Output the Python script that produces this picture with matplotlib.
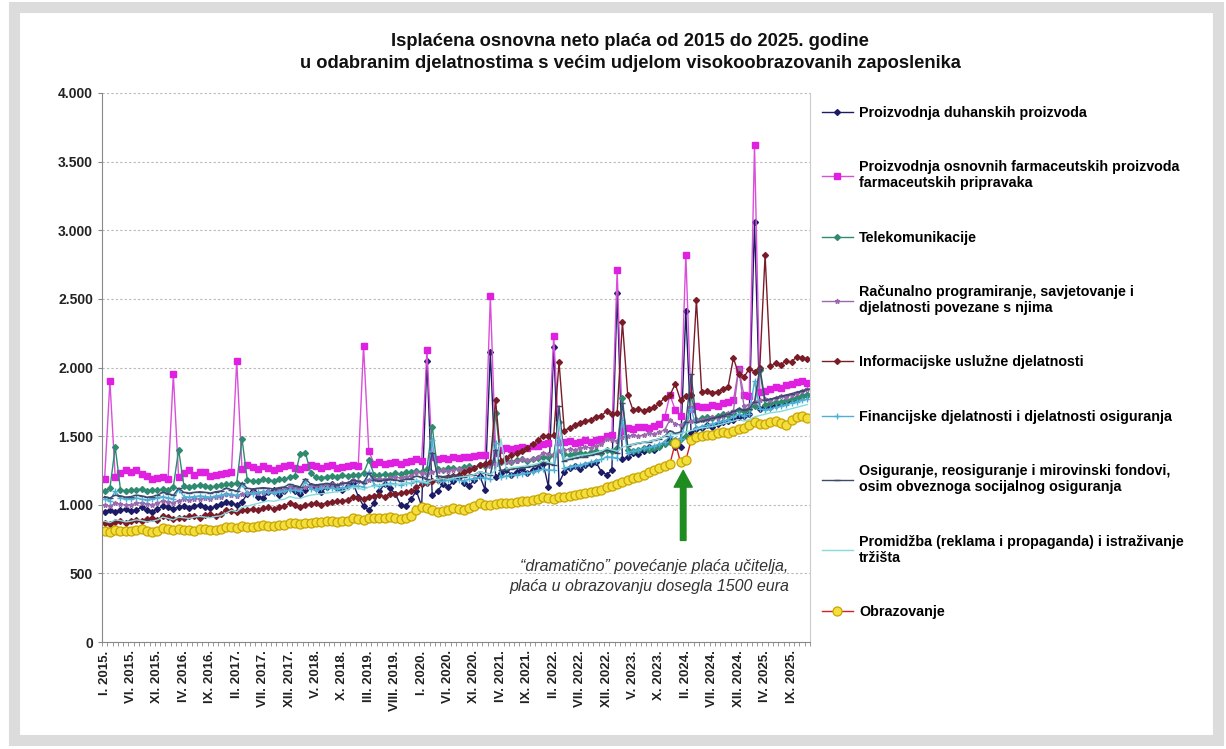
import matplotlib
matplotlib.use("Agg")
import matplotlib.pyplot as plt
from matplotlib.patches import Rectangle
from matplotlib.ticker import FuncFormatter, FixedLocator

plt.rcParams['font.family'] = ['Liberation Sans', 'DejaVu Sans']

# tick labels (every 5th month on the category axis)
x_labels = ["I. 2015.", "VI. 2015.", "XI. 2015.", "IV. 2016.", "IX. 2016.", "II. 2017.",
            "VII. 2017.", "XII. 2017.", "V. 2018.", "X. 2018.", "III. 2019.", "VIII. 2019.",
            "I. 2020.", "VI. 2020.", "XI. 2020.", "IV. 2021.", "IX. 2021.", "II. 2022.",
            "VII. 2022.", "XII. 2022.", "V. 2023.", "X. 2023.", "II. 2024.", "VII. 2024.",
            "XII. 2024.", "IV. 2025.", "IX. 2025."]

duhan = [950, 960, 945, 960, 970, 955, 965, 980, 960, 950, 970, 990,
         980, 970, 985, 990, 975, 990, 1000, 985, 975, 990, 1005, 1020,
         1010, 1000, 1020, 1080, 1100, 1060, 1050, 1090, 1110, 1070, 1100, 1120,
         1100, 1080, 1110, 1140, 1120, 1090, 1130, 1150, 1120, 1110, 1140, 1160,
         1060, 990, 960, 1010, 1100, 1150, 1120, 1080, 1000, 990, 1040, 1100,
         990, 2050, 1070, 1100, 1150, 1130, 1170, 1200, 1160, 1140, 1180, 1210,
         1110, 2110, 1200, 1230, 1250, 1220, 1240, 1260, 1230, 1250, 1270, 1300,
         1130, 2150, 1160, 1240, 1270, 1280, 1260, 1290, 1300, 1310, 1240, 1220,
         1250, 2540, 1330, 1350, 1380, 1370, 1390, 1420, 1400, 1430, 1450, 1480,
         1420, 1420, 2410, 1520, 1550, 1560, 1580, 1570, 1590, 1600, 1610, 1620, 1640,
         1650, 1660, 3060, 1700, 1720, 1710, 1730, 1740, 1750, 1760, 1780, 1790, 1800]

farma = [1190, 1900, 1200, 1230, 1250, 1240, 1250, 1225, 1210, 1190, 1195, 1200,
         1185, 1950, 1200, 1230, 1250, 1220, 1240, 1235, 1210, 1215, 1225, 1230,
         1240, 2050, 1260, 1290, 1275, 1260, 1280, 1265, 1250, 1270, 1280, 1290,
         1270, 1260, 1275, 1290, 1280, 1265, 1280, 1290, 1270, 1275, 1285, 1290,
         1280, 2160, 1390, 1300, 1310, 1295, 1305, 1315, 1300, 1310, 1320, 1330,
         1320, 2130, 1350, 1330, 1340, 1335, 1345, 1340, 1350, 1345, 1355, 1360,
         1360, 2520, 1380, 1400, 1410, 1405, 1415, 1420, 1410, 1425, 1430, 1440,
         1450, 2230, 1460, 1455, 1465, 1450, 1460, 1470, 1455, 1475, 1480, 1500,
         1510, 2710, 1540, 1560, 1555, 1565, 1570, 1560, 1575, 1590, 1640, 1800,
         1690, 1650, 2820, 1700, 1720, 1710, 1715, 1730, 1720, 1740, 1750, 1760, 1990,
         1800, 1790, 3620, 1820, 1830, 1840, 1860, 1850, 1870, 1880, 1895, 1900, 1890]

telekom = [1100, 1120, 1420, 1110, 1100, 1105, 1110, 1115, 1100, 1110, 1105, 1115,
           1110, 1130, 1400, 1140, 1130, 1135, 1145, 1140, 1130, 1135, 1145, 1150,
           1150, 1160, 1480, 1180, 1175, 1170, 1185, 1180, 1175, 1190, 1185, 1200,
           1210, 1370, 1380, 1230, 1200, 1195, 1205, 1210, 1200, 1215, 1210, 1220,
           1215, 1230, 1325, 1220, 1215, 1225, 1220, 1230, 1225, 1235, 1240, 1245,
           1240, 1260, 1570, 1260, 1250, 1265, 1270, 1260, 1275, 1280, 1270, 1290,
           1285, 1300, 1670, 1310, 1320, 1315, 1325, 1330, 1320, 1335, 1340, 1350,
           1345, 1360, 1600, 1370, 1365, 1375, 1380, 1370, 1385, 1390, 1380, 1400,
           1395, 1410, 1780, 1400, 1390, 1400, 1410, 1400, 1415, 1420, 1440, 1460,
           1470, 1480, 1500, 1800, 1620, 1630, 1640, 1635, 1650, 1660, 1655, 1670, 1690,
           1680, 1700, 1720, 1980, 1730, 1740, 1750, 1745, 1760, 1770, 1780, 1790, 1800]

racunalno = [1000, 990, 1010, 1005, 995, 1000, 1010, 1015, 1005, 1000, 1010, 1030,
             1020, 1015, 1030, 1040, 1035, 1045, 1040, 1050, 1045, 1055, 1060, 1080,
             1070, 1065, 1080, 1085, 1090, 1085, 1095, 1100, 1095, 1105, 1110, 1130,
             1120, 1115, 1130, 1135, 1140, 1135, 1145, 1150, 1145, 1155, 1160, 1180,
             1170, 1165, 1180, 1185, 1190, 1185, 1195, 1200, 1195, 1205, 1210, 1240,
             1230, 1225, 1240, 1245, 1250, 1245, 1255, 1260, 1255, 1265, 1270, 1300,
             1290, 1285, 1300, 1310, 1315, 1310, 1320, 1330, 1325, 1335, 1345, 1380,
             1370, 1365, 1390, 1400, 1405, 1400, 1410, 1420, 1415, 1430, 1440, 1480,
             1470, 1465, 1490, 1500, 1505, 1500, 1510, 1520, 1515, 1530, 1545, 1620,
             1590, 1580, 1600, 1610, 1620, 1615, 1625, 1640, 1635, 1650, 1665, 1680, 1990,
             1720, 1730, 1750, 1760, 1770, 1765, 1780, 1790, 1785, 1800, 1815, 1830, 1840]

informacijske = [870, 860, 875, 880, 870, 885, 890, 880, 895, 900, 890, 920,
                 910, 895, 905, 900, 915, 920, 905, 925, 930, 920, 935, 960,
                 955, 945, 960, 965, 970, 960, 975, 980, 970, 985, 990, 1010,
                 995, 985, 1000, 1005, 1010, 1000, 1015, 1020, 1025, 1030, 1035, 1060,
                 1050, 1045, 1060, 1065, 1070, 1060, 1075, 1080, 1085, 1090, 1100, 1130,
                 1150, 1160, 1175, 1180, 1190, 1200, 1210, 1220, 1235, 1250, 1265, 1290,
                 1300, 1310, 1760, 1320, 1340, 1360, 1380, 1395, 1415, 1440, 1470, 1500,
                 1500, 1510, 2040, 1540, 1560, 1580, 1595, 1610, 1620, 1640, 1650, 1680,
                 1660, 1670, 2330, 1800, 1690, 1700, 1685, 1695, 1710, 1740, 1780, 1800,
                 1880, 1760, 1790, 1800, 2490, 1820, 1830, 1815, 1825, 1840, 1860, 2070, 1950,
                 1930, 1990, 1970, 2000, 2820, 2010, 2030, 2020, 2050, 2040, 2080, 2070, 2060]

financijske = [1040, 1030, 1100, 1050, 1040, 1045, 1050, 1040, 1035, 1045, 1050, 1060,
               1050, 1045, 1110, 1060, 1055, 1060, 1065, 1060, 1055, 1065, 1070, 1080,
               1075, 1070, 1150, 1085, 1080, 1090, 1095, 1090, 1085, 1095, 1100, 1110,
               1105, 1100, 1170, 1115, 1110, 1120, 1125, 1120, 1115, 1125, 1130, 1140,
               1135, 1130, 1240, 1145, 1140, 1150, 1155, 1150, 1145, 1155, 1160, 1170,
               1165, 1160, 1470, 1175, 1170, 1180, 1185, 1180, 1175, 1185, 1190, 1200,
               1195, 1190, 1450, 1205, 1210, 1215, 1220, 1225, 1230, 1240, 1250, 1260,
               1255, 1250, 1480, 1270, 1275, 1285, 1290, 1300, 1310, 1320, 1330, 1350,
               1345, 1340, 1620, 1380, 1390, 1400, 1410, 1420, 1430, 1440, 1460, 1500,
               1470, 1480, 1600, 1700, 1560, 1570, 1580, 1590, 1600, 1610, 1620, 1640, 1660,
               1650, 1660, 1900, 1700, 1690, 1700, 1710, 1720, 1730, 1740, 1750, 1760, 1770]

osiguranje = [1060, 1050, 1070, 1065, 1055, 1060, 1070, 1065, 1055, 1060, 1070, 1090,
              1080, 1070, 1120, 1090, 1085, 1090, 1095, 1090, 1085, 1095, 1100, 1120,
              1110, 1100, 1160, 1120, 1115, 1120, 1125, 1120, 1115, 1125, 1130, 1150,
              1140, 1130, 1190, 1150, 1145, 1150, 1155, 1150, 1145, 1155, 1160, 1180,
              1170, 1160, 1230, 1180, 1175, 1180, 1185, 1180, 1175, 1185, 1190, 1210,
              1200, 1190, 1380, 1210, 1205, 1210, 1215, 1210, 1205, 1215, 1220, 1240,
              1230, 1220, 1400, 1250, 1255, 1260, 1265, 1270, 1275, 1280, 1290, 1310,
              1300, 1290, 1720, 1320, 1330, 1340, 1345, 1350, 1360, 1370, 1380, 1400,
              1390, 1380, 1740, 1430, 1440, 1450, 1455, 1460, 1470, 1480, 1500, 1540,
              1520, 1530, 1600, 1950, 1600, 1610, 1620, 1630, 1640, 1650, 1660, 1680, 1700,
              1690, 1700, 1750, 2000, 1760, 1770, 1780, 1790, 1800, 1810, 1820, 1830, 1840]

promidzba = [880, 870, 890, 885, 875, 880, 890, 885, 875, 880, 890, 910,
             900, 890, 910, 905, 900, 910, 915, 910, 905, 915, 920, 940,
             960, 950, 980, 990, 1000, 1010, 1020, 1030, 1025, 1035, 1040, 1060,
             1050, 1045, 1060, 1070, 1075, 1080, 1085, 1090, 1095, 1100, 1110, 1130,
             1120, 1110, 1130, 1135, 1140, 1145, 1150, 1145, 1150, 1155, 1160, 1180,
             1170, 1160, 1180, 1185, 1190, 1185, 1195, 1200, 1205, 1210, 1220, 1240,
             1230, 1220, 1250, 1480, 1260, 1270, 1275, 1280, 1285, 1290, 1300, 1320,
             1310, 1300, 1620, 1330, 1340, 1350, 1360, 1365, 1370, 1380, 1390, 1410,
             1400, 1390, 1420, 1430, 1440, 1450, 1455, 1460, 1470, 1480, 1500, 1520,
             1510, 1520, 1530, 1540, 1550, 1560, 1565, 1570, 1580, 1590, 1600, 1610, 1620,
             1610, 1620, 1640, 1650, 1660, 1670, 1675, 1680, 1690, 1700, 1710, 1720, 1730]

obrazovanje = [810, 805, 815, 810, 812, 808, 815, 820, 810, 805, 812, 830,
               825, 815, 820, 818, 815, 812, 820, 825, 818, 815, 822, 840,
               835, 830, 845, 840, 838, 842, 850, 848, 845, 850, 852, 870,
               865, 860, 870, 868, 872, 875, 880, 878, 875, 880, 885, 900,
               895, 890, 900, 905, 900, 905, 910, 905, 895, 905, 920, 960,
               985, 975, 960, 950, 955, 965, 975, 970, 965, 975, 990, 1010,
               1000, 995, 1005, 1010, 1015, 1010, 1020, 1025, 1030, 1035, 1040, 1055,
               1050, 1045, 1055, 1060, 1065, 1070, 1075, 1085, 1090, 1100, 1110, 1130,
               1140, 1150, 1165, 1180, 1195, 1205, 1220, 1235, 1250, 1265, 1280, 1300,
               1450, 1310, 1325, 1470, 1490, 1500, 1510, 1505, 1520, 1530, 1525, 1540, 1555,
               1560, 1580, 1600, 1590, 1585, 1600, 1610, 1595, 1580, 1620, 1640, 1650, 1635]

series = [
    ("Proizvodnja duhanskih proizvoda", duhan,
     dict(color='#1c1c66', marker='D', ms=3)),
    ("Proizvodnja osnovnih farmaceutskih proizvoda\nfarmaceutskih pripravaka", farma,
     dict(color='#d94fd9', marker='s', ms=4.5, mfc='#e020e0', mec='#e020e0')),
    ("Telekomunikacije", telekom,
     dict(color='#2e8b70', marker='D', ms=3)),
    ("Računalno programiranje, savjetovanje i\ndjelatnosti povezane s njima", racunalno,
     dict(color='#9a6aac', marker='*', ms=3.5)),
    ("Informacijske uslužne djelatnosti", informacijske,
     dict(color='#7a1c28', marker='D', ms=3)),
    ("Financijske djelatnosti i djelatnosti osiguranja", financijske,
     dict(color='#4fb0d6', marker='+', ms=4)),
    ("Osiguranje, reosiguranje i mirovinski fondovi,\nosim obveznoga socijalnog osiguranja", osiguranje,
     dict(color='#3c4a6e', marker='_', ms=4)),
    ("Promidžba (reklama i propaganda) i istraživanje\ntržišta", promidzba,
     dict(color='#86dada')),
    ("Obrazovanje", obrazovanje,
     dict(color='#d42020', marker='o', ms=6.5, mfc='#f3df3c', mec='#c9a400', mew=0.9)),
]

fig = plt.figure(figsize=(12.26, 7.49), dpi=100)
fig.patch.set_facecolor('white')
fig.patches.append(Rectangle((14 / 1226, 9 / 749), 1204 / 1226, 733 / 749,
                             transform=fig.transFigure, fill=False,
                             edgecolor='#dcdcdc', linewidth=8))

ax = fig.add_axes([102 / 1226, 107 / 749, 708 / 1226, 549 / 749])

for label, values, style in series:
    ax.plot(range(len(values)), values, lw=1.0, label=label, **style)

n = len(obrazovanje)
ax.set_xlim(-0.5, n - 0.5)
ax.set_ylim(0, 4000)
ax.set_yticks(range(0, 4001, 500))
ax.yaxis.set_major_formatter(FuncFormatter(lambda v, p: f"{int(v):,}".replace(",", ".")))
ax.grid(axis='y', color='#b8b8b8', linestyle=(0, (2, 2)), linewidth=0.8)
ax.set_axisbelow(True)

ax.set_xticks(range(0, 5 * len(x_labels), 5))
ax.set_xticklabels(x_labels, rotation=90, fontsize=9.5, fontweight='bold', color='#222222')
ax.xaxis.set_minor_locator(FixedLocator([i + 0.5 for i in range(-1, n)]))
ax.tick_params(axis='x', which='major', length=0, pad=6)
ax.tick_params(axis='x', which='minor', length=3, color='#888888')
ax.tick_params(axis='y', length=3, color='#888888', labelsize=10, labelcolor='#222222')
for t in ax.get_yticklabels():
    t.set_fontweight('bold')

for side in ['left', 'bottom']:
    ax.spines[side].set_color('#888888')
ax.spines['right'].set_color('#cccccc')
ax.spines['top'].set_visible(False)

# annotation for the teachers' pay rise
ax.annotate("", xy=(109.5, 1250), xytext=(109.5, 740),
            arrowprops=dict(facecolor='#1e8c1e', edgecolor='#1e8c1e',
                            width=4, headwidth=13, headlength=12))
ax.text(129.5, 480, "\u201cdramatično\u201d povećanje plaća učitelja,\nplaća u obrazovanju dosegla 1500 eura",
        ha='right', va='center', fontsize=11.5, style='italic', color='#333333', linespacing=1.4)

fig.text(0.514, 0.93,
         "Isplaćena osnovna neto plaća od 2015 do 2025. godine\n"
         "u odabranim djelatnostima s većim udjelom visokoobrazovanih zaposlenika",
         ha='center', va='center', fontsize=13.2, fontweight='bold',
         color='#111111', linespacing=1.35)

fig.legend(loc='upper left', bbox_to_anchor=(816 / 1226, 1 - 100 / 749),
           frameon=False, prop=dict(size=10.3, weight='bold'),
           handlelength=2.2, handletextpad=0.4, labelspacing=2.82, borderaxespad=0)

fig.savefig("out.png", dpi=100, facecolor='white')
